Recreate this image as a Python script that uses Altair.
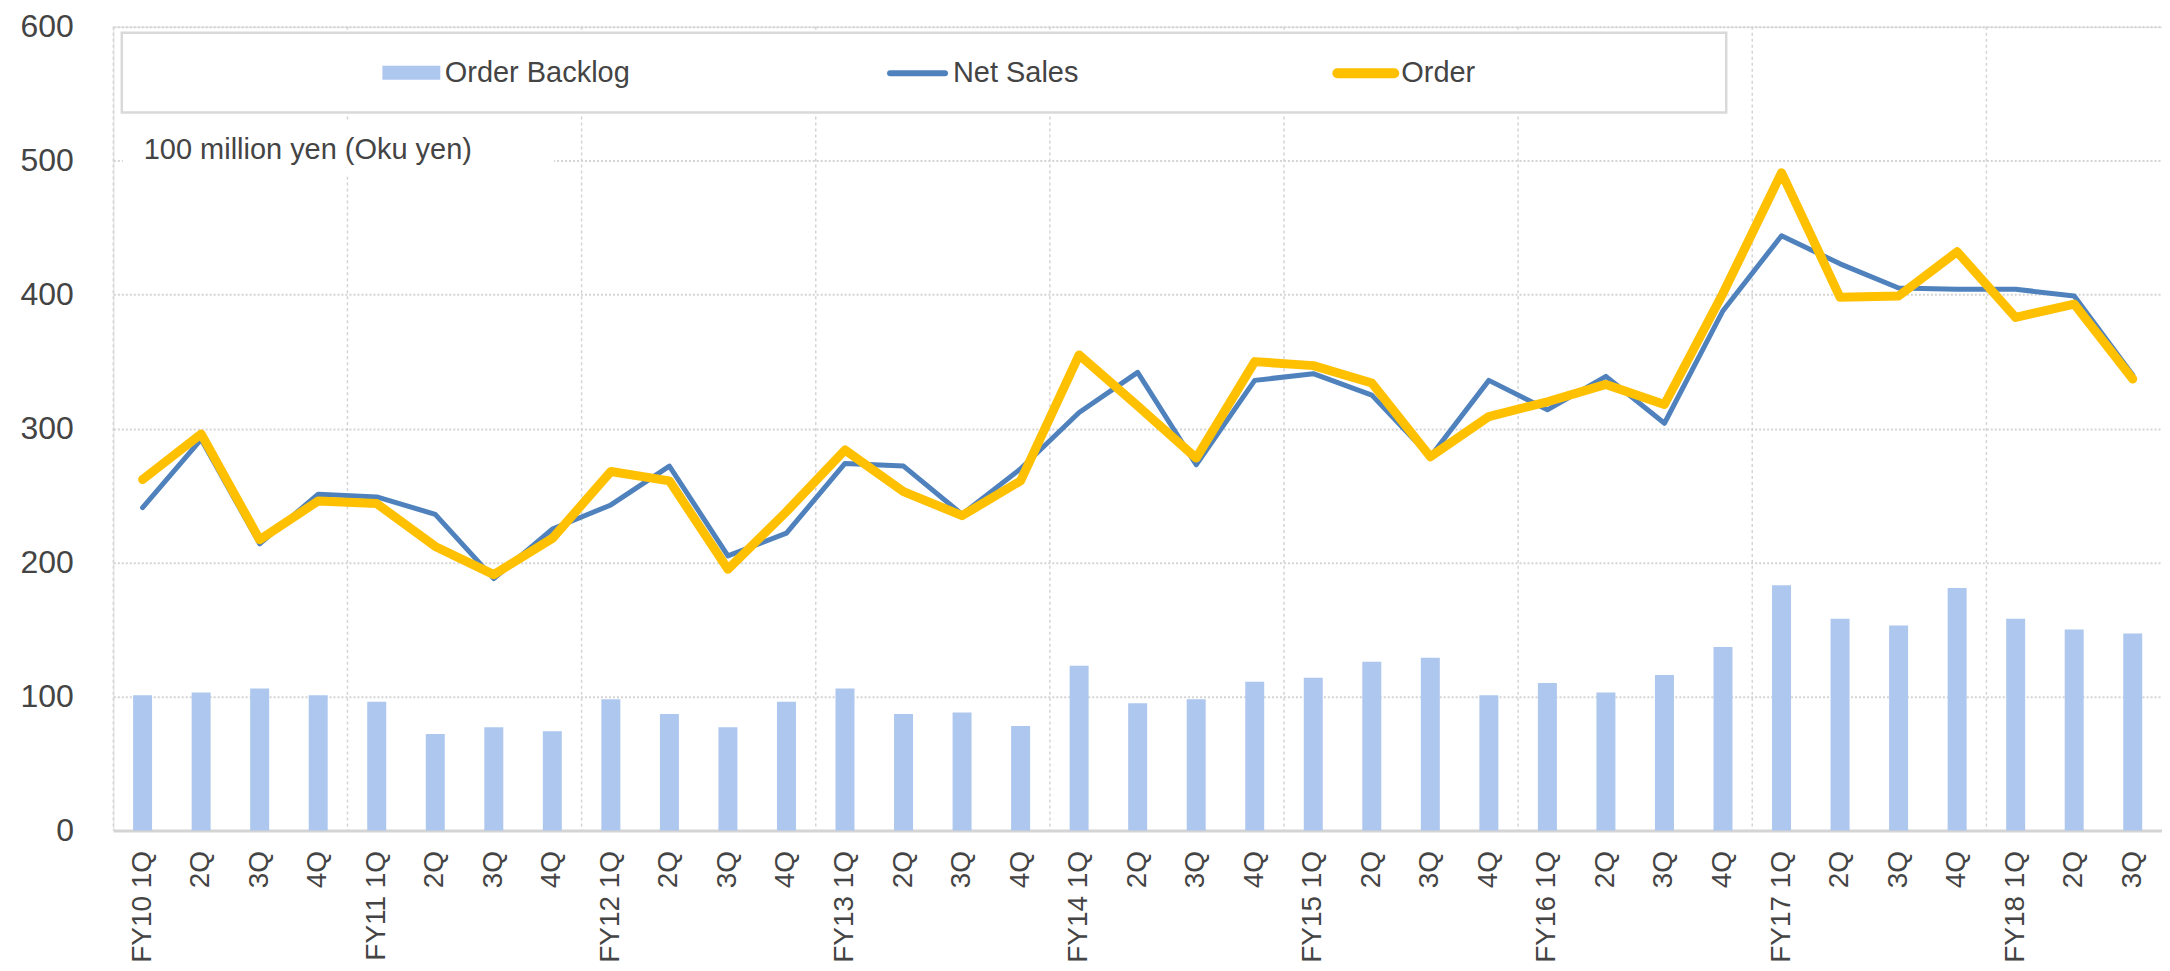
import altair as alt
import pandas as pd

# ---------------- data ----------------
categories = [
    "FY10 1Q", "FY10 2Q", "FY10 3Q", "FY10 4Q",
    "FY11 1Q", "FY11 2Q", "FY11 3Q", "FY11 4Q",
    "FY12 1Q", "FY12 2Q", "FY12 3Q", "FY12 4Q",
    "FY13 1Q", "FY13 2Q", "FY13 3Q", "FY13 4Q",
    "FY14 1Q", "FY14 2Q", "FY14 3Q", "FY14 4Q",
    "FY15 1Q", "FY15 2Q", "FY15 3Q", "FY15 4Q",
    "FY16 1Q", "FY16 2Q", "FY16 3Q", "FY16 4Q",
    "FY17 1Q", "FY17 2Q", "FY17 3Q", "FY17 4Q",
    "FY18 1Q", "FY18 2Q", "FY18 3Q",
]
order_backlog = [
    101, 103, 106, 101,
    96, 72, 77, 74,
    98, 87, 77, 96,
    106, 87, 88, 78,
    123, 95, 98, 111,
    114, 126, 129, 101,
    110, 103, 116, 137,
    183, 158, 153, 181,
    158, 150, 147,
]
net_sales = [
    241, 292, 214, 251,
    249, 236, 188, 225,
    243, 272, 205, 222,
    274, 272, 236, 270,
    312, 342, 273, 336,
    341, 325, 279, 336,
    314, 339, 304, 388,
    444, 423, 405, 404,
    404, 399, 340,
]
order = [
    262, 296, 217, 246,
    244, 212, 191, 218,
    268, 261, 195, 238,
    284, 253, 235, 261,
    355, 317, 278, 350,
    347, 334, 279, 309,
    320, 333, 318, 401,
    491, 398, 399, 432,
    383, 393, 337,
]
year_starts = ["FY10 1Q", "FY11 1Q", "FY12 1Q", "FY13 1Q", "FY14 1Q",
               "FY15 1Q", "FY16 1Q", "FY17 1Q", "FY18 1Q"]
y_ticks = [0, 100, 200, 300, 400, 500, 600]
series_names = ["Order Backlog", "Net Sales", "Order"]
unit_note = "100 million yen (Oku yen)"

df = pd.DataFrame({"cat": categories, "backlog": order_backlog,
                   "net_sales": net_sales, "order": order})
starts_df = pd.DataFrame({"cat": year_starts})
one = pd.DataFrame({"k": [0]})

# ---------------- styling ----------------
FONT = "Liberation Sans"
TXT = "#444444"
GRID = "#d4d4d4"
BAR_C = "#aec7ee"
NS_C = "#4f81bd"
OR_C = "#ffc000"
W = 2052
H = 805
TOP = 18
D = -5  # shift for decorations so they keep their place on the page

xscale = alt.Scale(domain=categories, paddingInner=0, paddingOuter=0)
yscale = alt.Scale(domain=[0, 600], nice=False)

x_axis = alt.Axis(
    title=None,
    labelExpr="indexof(datum.value, '1Q') >= 0 ? datum.value : substring(datum.value, 5)",
    labelAngle=270, labelFontSize=28, labelFont=FONT, labelColor=TXT,
    labelPadding=20, ticks=False, grid=False,
    domainColor=GRID, domainWidth=3, labelOverlap=False,
)
y_axis = alt.Axis(
    title=None, values=y_ticks, labelFontSize=32, labelFont=FONT,
    labelColor=TXT, labelPadding=40, ticks=False, domain=False,
    grid=True, gridColor=GRID, gridDash=[2, 2], gridWidth=2,
)

X = alt.X("cat:N", sort=categories, scale=xscale, axis=x_axis)

# vertical year-boundary lines
vlines = alt.Chart(starts_df).mark_rule(
    color=GRID, strokeWidth=1.5, strokeDash=[3, 3]
).encode(
    x=alt.X("cat:N", sort=categories, scale=xscale, axis=x_axis, bandPosition=0),
    y=alt.value(0), y2=alt.value(H),
)

bars = alt.Chart(df).mark_bar(size=19, color=BAR_C).encode(
    x=X,
    y=alt.Y("backlog:Q", scale=yscale, axis=y_axis),
)

ns_line = alt.Chart(df).mark_line(
    color=NS_C, strokeWidth=5, strokeJoin="round", strokeCap="round"
).encode(x=X, y=alt.Y("net_sales:Q", scale=yscale, axis=y_axis))

or_line = alt.Chart(df).mark_line(
    color=OR_C, strokeWidth=9, strokeJoin="round", strokeCap="round"
).encode(x=X, y=alt.Y("order:Q", scale=yscale, axis=y_axis))

# unit note with white background
note_box = alt.Chart(one).mark_rect(fill="white", stroke=None).encode(
    x=alt.value(9.5), x2=alt.value(441.5), y=alt.value(99 + D), y2=alt.value(155 + D)
)
note_text = alt.Chart(one).mark_text(
    align="left", baseline="middle", fontSize=29, font=FONT, color=TXT
).encode(x=alt.value(30.5), y=alt.value(128 + D), text=alt.value(unit_note))

# legend box
leg_box = alt.Chart(one).mark_rect(
    fill="white", stroke="#d9d9d9", strokeWidth=2.5
).encode(x=alt.value(8.5), x2=alt.value(1615.5), y=alt.value(11 + D), y2=alt.value(91 + D))
leg_sw = alt.Chart(one).mark_rect(fill=BAR_C).encode(
    x=alt.value(269.5), x2=alt.value(327.5), y=alt.value(44 + D), y2=alt.value(58 + D)
)
leg_ns = alt.Chart(one).mark_rule(color=NS_C, strokeWidth=6, strokeCap="round").encode(
    x=alt.value(778), x2=alt.value(833), y=alt.value(51.5 + D)
)
leg_or = alt.Chart(one).mark_rule(color=OR_C, strokeWidth=10, strokeCap="round").encode(
    x=alt.value(1226), x2=alt.value(1283), y=alt.value(51.5 + D)
)


def leg_text(label, xpos):
    return alt.Chart(one).mark_text(
        align="left", baseline="middle", fontSize=29, font=FONT, color=TXT
    ).encode(x=alt.value(xpos), y=alt.value(51 + D), text=alt.value(label))


chart = alt.layer(
    vlines, bars, ns_line, or_line,
    note_box, note_text,
    leg_box, leg_sw, leg_ns, leg_or,
    leg_text(series_names[0], 332),
    leg_text(series_names[1], 841),
    leg_text(series_names[2], 1290),
).properties(
    width=W, height=H,
    padding={"left": 105.5, "top": TOP, "right": 0, "bottom": 131},
    autosize=alt.AutoSizeParams(type="none"),
).configure_view(stroke=None).configure(background="white")

chart.save("out.html", embed_options={"renderer": "svg", "actions": False})
